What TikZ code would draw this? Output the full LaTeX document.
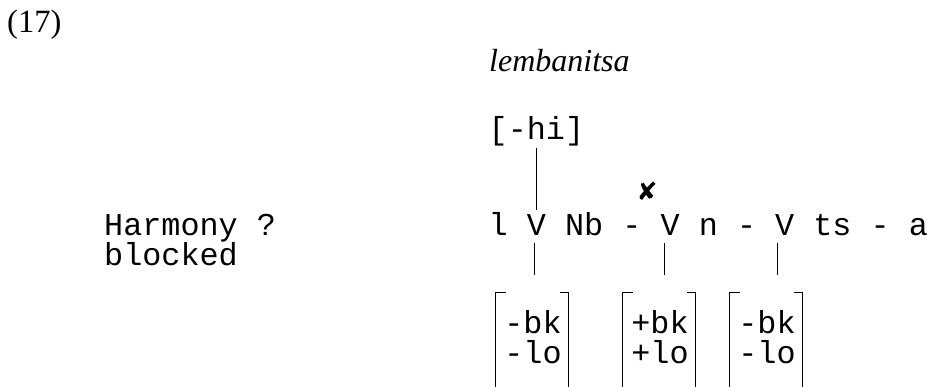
\documentclass[tikz,border=0pt]{standalone}
\usepackage{fontspec}
\setmainfont{Liberation Serif}
\setmonofont{Liberation Mono}
\newfontfamily\dingfont{DejaVu Sans}
\usetikzlibrary{calc,positioning}
\tikzset{
  seg/.style={font=\ttfamily\fontsize{31.8}{30}\selectfont, inner sep=0pt, anchor=base west},
  feat/.style={font=\ttfamily\fontsize{31.8}{30}\selectfont, align=left, inner sep=0pt},
  assoc/.style={line width=0.8pt},
  brk/.style={line width=0.8pt}
}

\begin{document}
\begin{tikzpicture}[x=1pt,y=1pt]
  \clip (0,0) rectangle (928,387);
  % example number and the word
  \node[font=\fontsize{32.5}{32}\selectfont, inner sep=0pt, anchor=base west] (num) at (7,354) {(17)};
  \node[font=\itshape\fontsize{32}{32}\selectfont, inner sep=0pt, anchor=base west] (word) at (489,315) {lembanitsa};
  % left label
  \node[seg] (harm) at (104,151) {Harmony ?};
  \node[seg] (blk) at (104,121) {blocked};
  % floating feature
  \node[seg] (hi) at (488.5,247) {[-hi]};
  % segmental tier
  \foreach \s/\p/\n in {l/0/s0, V/2/v1, Nb/4/s1, -/7/s2, V/9/v2, n/11/s3, -/13/s4, V/15/v3, ts/17/s5, -/20/s6, a/22/s7}
    \node[seg] (\n) at (488.5+\p*19.1,151) {\s};
  % spreading blocked here
  \node[font=\dingfont\fontsize{25}{25}\selectfont, inner sep=0pt] (cross) at (647,196) {✘};
  % feature matrices
  \node[feat] (m1) at (533,50) {-bk\\-lo};
  \node[feat] (m2) at (660,50) {+bk\\+lo};
  \node[feat] (m3) at (767,50) {-bk\\-lo};
  \foreach \m in {m1,m2,m3}{
    \draw[brk] ([shift={(2,18)}]\m.north west) -- ([shift={(-9,18)}]\m.north west) -- ([shift={(-9,-60)}]\m.south west);
    \draw[brk] ([shift={(-2,18)}]\m.north east) -- ([shift={(7,18)}]\m.north east) -- ([shift={(7,-60)}]\m.south east);
  }
  % association lines
  \draw[assoc] ($(hi.base)+(0,-8)$) -- ($(v1.base)+(0,26)$);
  \foreach \v/\m/\d in {v1/m1/-2, v2/m2/-6, v3/m3/-7}
    \draw[assoc] ($(\v.base)+(\d,-7)$) -- ($(\v.base |- \m.north)+(\d,35)$);
\end{tikzpicture}
\end{document}
